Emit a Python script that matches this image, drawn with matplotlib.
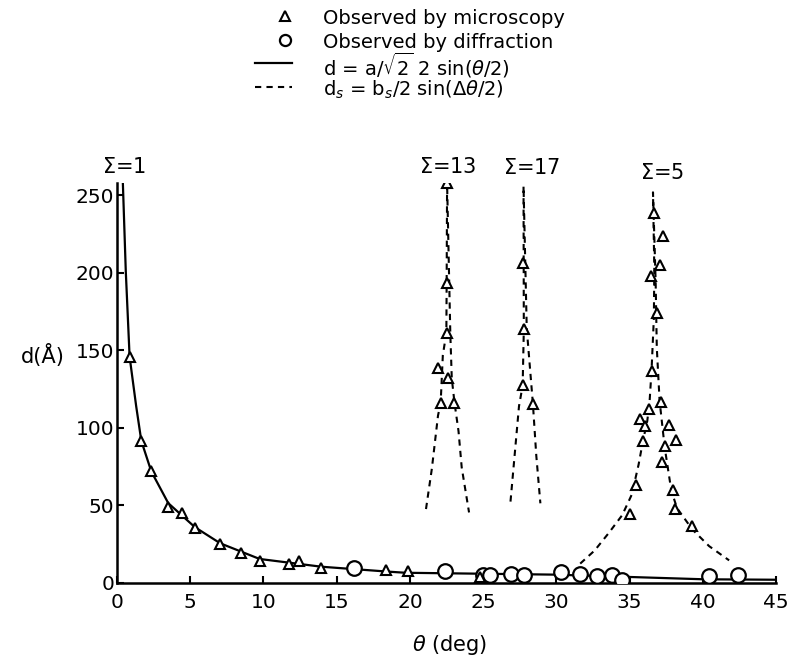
import numpy as np
import matplotlib.pyplot as plt
from matplotlib.lines import Line2D

# values: theta in deg, d in Angstrom

# solid curve  d = a/sqrt2 2 sin(theta/2)
curve_theta = [0.4, 0.6, 0.86, 1.31, 1.66, 2.34, 3.5, 5.32, 7.05, 9.74, 13.96, 18.4, 19.7, 29.85, 40.05, 45.0]
curve_d = [258, 201, 146, 114, 91.7, 72, 51.5, 36, 25.6, 15.5, 10.5, 7.4, 6.6, 5.4, 2.4, 2.1]

# microscopy points on the sigma=1 branch
micro_theta = [0.86, 1.66, 2.34, 3.5, 4.47, 5.32, 7.05, 8.49, 9.74, 11.73, 12.41, 13.96, 18.38, 19.87, 24.8]
micro_d = [146, 91.7, 72, 49, 45.4, 35.4, 24.9, 19.6, 14.2, 12.3, 14.5, 9.8, 8.1, 7.9, 3.6]

# microscopy points around the special boundaries
s13_theta = [22.54, 22.53, 22.54, 21.94, 22.59, 22.12, 23.03]
s13_d = [258, 193.5, 161, 138.5, 132, 116, 116]
s17_theta = [27.75, 27.78, 27.7, 28.4]
s17_d = [206.6, 163.6, 127.4, 115.4]
s5_theta = [36.65, 37.27, 37.07, 36.45, 36.88, 36.55, 37.18, 36.3, 35.73, 36.08,
            37.69, 35.9, 38.17, 37.4, 37.2, 35.44, 37.94, 38.1, 35.05, 39.27]
s5_d = [238.5, 224, 205, 198, 174, 137, 116.6, 112, 106, 101,
        101.6, 91.4, 92, 88.6, 77.8, 63, 59.8, 48, 44.8, 36.5]

# diffraction points
diff_theta = [16.2, 22.4, 25.0, 25.5, 26.9, 27.8, 30.3, 31.6, 32.8, 33.8, 34.5, 40.4, 42.4]
diff_d = [9.5, 7.5, 5.1, 5.3, 5.7, 5.4, 6.8, 6.0, 4.5, 5.4, 1.8, 4.4, 5.1]

# dashed curves d_s = b_s/2 sin(dtheta/2)
dash13_theta = [21.1, 21.5, 21.92, 22.1, 22.25, 22.49, 22.51, 22.54, 22.76, 22.86, 23.05, 23.32, 23.54, 24.04]
dash13_d = [47.7, 73.7, 108, 116, 147, 161.3, 193.5, 258, 161, 132, 116, 98, 74.4, 45.5]
dash17_theta = [26.87, 27.45, 27.7, 27.78, 27.77, 27.76, 27.98, 28.4, 28.63, 28.91]
dash17_d = [52.5, 114, 127.4, 163.6, 206, 256, 164, 115.6, 82.3, 51.4]
dash5_theta = [31.63, 32.62, 33.6, 34.5, 35.15, 35.62, 35.91, 36.21, 36.37, 36.5, 36.66, 36.69, 36.6,
               36.78, 36.86, 37.05, 37.4, 37.85, 38.24, 39.3, 40.43, 41.8]
dash5_d = [12.5, 21, 32.5, 43.8, 57, 76.5, 91.4, 104.5, 117.4, 136.8, 171, 203, 252,
           195, 151.8, 117.6, 87.4, 59.7, 48.3, 34.4, 23.8, 14.6]

sigma_labels = [r'$\Sigma$=1', r'$\Sigma$=13', r'$\Sigma$=17', r'$\Sigma$=5']
sigma_theta = [0.5, 22.6, 28.3, 37.2]
sigma_d = [262, 262, 261, 258]

plt.rcParams['font.family'] = ['DejaVu Sans']
plt.rcParams['mathtext.fontset'] = 'dejavusans'

fig = plt.figure(figsize=(7.91, 6.65), dpi=100)
ax = fig.add_axes([117/791, 82/665, 659/791, 400/665])

tri = dict(marker='^', ls='none', ms=6.5, mfc='white', mec='black', mew=1.5, zorder=4)
circ = dict(marker='o', ls='none', ms=10.5, mfc='white', mec='black', mew=1.6, zorder=3)
dash = dict(color='black', lw=1.5, ls=(0, (3, 2.5)), zorder=2)

ax.plot(curve_theta, curve_d, color='black', lw=1.6, zorder=2)
for th, d in [(dash13_theta, dash13_d), (dash17_theta, dash17_d), (dash5_theta, dash5_d)]:
    ax.plot(th, d, **dash)

ax.plot(diff_theta, diff_d, **circ)
for th, d in [(micro_theta, micro_d), (s13_theta, s13_d), (s17_theta, s17_d), (s5_theta, s5_d)]:
    ax.plot(th, d, **tri)

for lab, th, d in zip(sigma_labels, sigma_theta, sigma_d):
    ax.text(th, d, lab, ha='center', va='bottom', fontsize=15, clip_on=False)

ax.set_xlim(0, 45)
ax.set_ylim(0, 258)
ax.set_xticks(np.arange(0, 46, 5))
ax.set_yticks(np.arange(0, 251, 50))
ax.tick_params(direction='in', length=5, width=1.5, labelsize=14.5)
ax.tick_params(axis='x', pad=7)
ax.tick_params(axis='y', pad=2)
for s in ['top', 'right']:
    ax.spines[s].set_visible(False)
for s in ['left', 'bottom']:
    ax.spines[s].set_linewidth(1.8)

ax.set_xlabel(r'$\theta$ (deg)', fontsize=15)
ax.xaxis.set_label_coords(0.505, -0.125)
ax.set_ylabel('d(Å)', fontsize=15, rotation=0, ha='center', va='center')
ax.yaxis.set_label_coords(-0.112, 0.57)

# legend drawn by hand at the top
rows_y = [16, 40, 63, 87]
labels = ['Observed by microscopy', 'Observed by diffraction',
          r'd = a/$\sqrt{2}$ 2 sin($\theta$/2)', r'd$_s$ = b$_s$/2 sin($\Delta\theta$/2)']
W, H = 791, 665
for i, (y, lab) in enumerate(zip(rows_y, labels)):
    fy = 1 - y / H
    if i == 0:
        fig.add_artist(Line2D([285/W], [fy], transform=fig.transFigure, **tri))
    elif i == 1:
        st = dict(circ, ms=8)
        fig.add_artist(Line2D([285/W], [fy], transform=fig.transFigure, **st))
    elif i == 2:
        fig.add_artist(Line2D([255/W, 292/W], [fy, fy], transform=fig.transFigure, color='black', lw=1.6))
    else:
        fig.add_artist(Line2D([255/W, 292/W], [fy, fy], transform=fig.transFigure, **dash))
    fig.text(323/W, fy, lab, fontsize=14, ha='left', va='center_baseline')

fig.savefig('out.png', dpi=100)
